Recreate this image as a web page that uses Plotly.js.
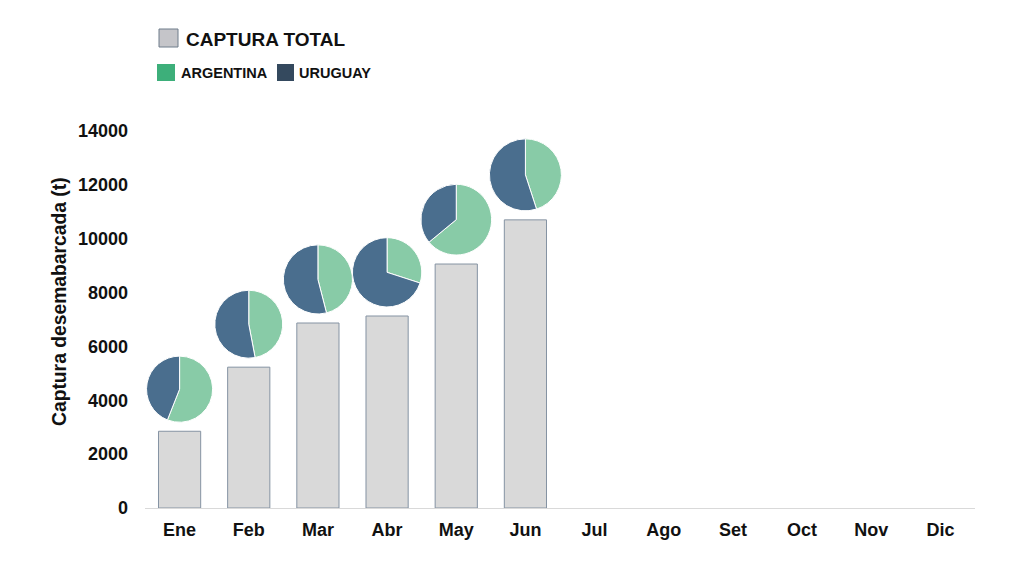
<!DOCTYPE html>
<html>
<head>
<meta charset="utf-8">
<script src="https://cdn.plot.ly/plotly-3.0.1.min.js"></script>
<style>html,body{margin:0;padding:0;background:#fff;}#chart{width:1024px;height:576px;}</style>
</head>
<body>
<div id="chart"></div>
<script>
// ---- data ----
var months = ["Ene","Feb","Mar","Abr","May","Jun","Jul","Ago","Set","Oct","Nov","Dic"];
var capturaTotal = [2850, 5230, 6870, 7130, 9060, 10700, null, null, null, null, null, null];
var argentinaPct = [56, 47, 46, 30, 64, 45];
var uruguayPct   = [44, 53, 54, 70, 36, 55];
var pieLabels = ["ARGENTINA", "URUGUAY"];
var yTicks = [0, 2000, 4000, 6000, 8000, 10000, 12000, 14000];
var yTitle = "Captura desemabarcada (t)";

// ---- layout geometry ----
var W = 1024, H = 576;
var M = {l: 145, r: 49, t: 131, b: 68};
var plotW = W - M.l - M.r, plotH = H - M.t - M.b;
var yMax = 14000;
var FONT = "Liberation Sans, Arial, sans-serif";
var pieGreen = "#88cba7", pieBlue = "#4a6e8e";

// positions in pixels inside the plot area (origin at top-left of plot area)
function xIn(i){ return (i + 0.5) * plotW / months.length; }
function yIn(v){ return plotH * (1 - v / yMax); }

var traces = [{
  type: "bar",
  x: months,
  y: capturaTotal,
  width: 0.61,
  marker: {color: "#d9d9d9", line: {color: "#8593a3", width: 1}},
  showlegend: false,
  hoverinfo: "x+y"
}];

var maxTot = Math.max.apply(null, capturaTotal.filter(function(v){return v!=null;}));
for (var i = 0; i < argentinaPct.length; i++) {
  var r = 32 + 4 * capturaTotal[i] / maxTot;
  var cx = xIn(i);
  var cy = yIn(capturaTotal[i]) - r - 9;
  traces.push({
    type: "pie",
    labels: pieLabels,
    values: [argentinaPct[i], uruguayPct[i]],
    sort: false,
    direction: "clockwise",
    rotation: 0,
    textinfo: "none",
    hoverinfo: "label+percent",
    showlegend: false,
    marker: {colors: [pieGreen, pieBlue], line: {color: "#ffffff", width: 1}},
    domain: {
      x: [(cx - r) / plotW, (cx + r) / plotW],
      y: [Math.max(0, 1 - (cy + r) / plotH), Math.min(1, 1 - (cy - r) / plotH)]
    }
  });
}

function px(x){ return (x - M.l) / plotW; }
function py(y){ return (M.t + plotH - y) / plotH; }

var layout = {
  width: W, height: H,
  margin: M,
  paper_bgcolor: "#ffffff",
  plot_bgcolor: "#ffffff",
  font: {family: FONT, color: "#111111"},
  xaxis: {
    type: "category",
    categoryarray: months,
    categoryorder: "array",
    range: [-0.5, 11.5],
    showgrid: false,
    zeroline: false,
    showline: true,
    linecolor: "#d9d9d9",
    linewidth: 1,
    ticks: "",
    ticklabelstandoff: 5,
    tickfont: {family: FONT, size: 18, color: "#111111", weight: "bold"}
  },
  yaxis: {
    range: [0, yMax],
    tickvals: yTicks,
    ticktext: yTicks.map(String),
    showgrid: false,
    zeroline: false,
    showline: false,
    ticks: "",
    ticklabelstandoff: 16,
    tickfont: {family: FONT, size: 18, color: "#111111", weight: "bold"}
  },
  shapes: [
    {type: "rect", xref: "paper", yref: "paper", x0: px(159), x1: px(178), y0: py(47), y1: py(29),
     fillcolor: "#c5c5c9", line: {color: "#6f7c8b", width: 1}},
    {type: "rect", xref: "paper", yref: "paper", x0: px(157), x1: px(175), y0: py(81), y1: py(64),
     fillcolor: "#3daf7a", line: {width: 0}},
    {type: "rect", xref: "paper", yref: "paper", x0: px(277), x1: px(294), y0: py(81), y1: py(64),
     fillcolor: "#34495e", line: {width: 0}}
  ],
  annotations: [
    {text: yTitle, xref: "paper", yref: "paper", x: px(59), y: py(302),
     xanchor: "center", yanchor: "middle", textangle: -90, showarrow: false,
     font: {family: FONT, size: 19.3, color: "#111111", weight: "bold"}},
    {text: "CAPTURA TOTAL", xref: "paper", yref: "paper", x: px(184), y: py(39),
     xanchor: "left", yanchor: "middle", showarrow: false,
     font: {family: FONT, size: 19, color: "#111111", weight: "bold"}},
    {text: "ARGENTINA", xref: "paper", yref: "paper", x: px(179), y: py(73),
     xanchor: "left", yanchor: "middle", showarrow: false,
     font: {family: FONT, size: 14.5, color: "#111111", weight: "bold"}},
    {text: "URUGUAY", xref: "paper", yref: "paper", x: px(297), y: py(73),
     xanchor: "left", yanchor: "middle", showarrow: false,
     font: {family: FONT, size: 14.5, color: "#111111", weight: "bold"}}
  ]
};

Plotly.newPlot("chart", traces, layout, {displayModeBar: false});
</script>
</body>
</html>
